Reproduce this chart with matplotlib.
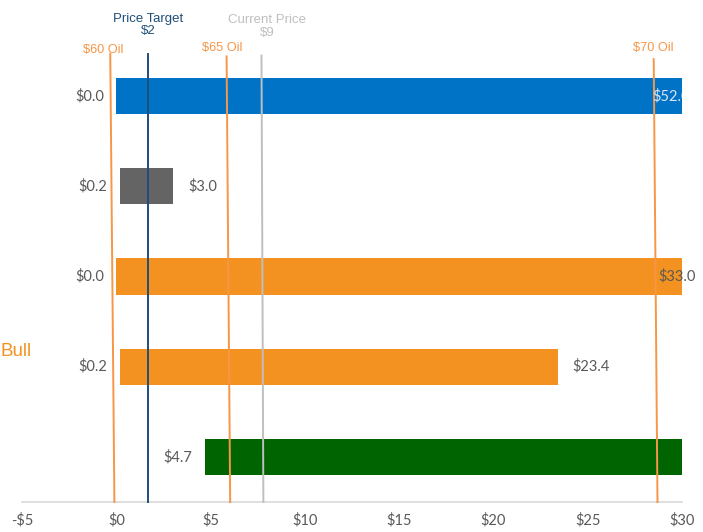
import matplotlib.pyplot as plt

# floating bars, listed top to bottom
bar_start = [0.0, 0.2, 0.0, 0.2, 4.7]
bar_end = [52.0, 3.0, 33.0, 23.4, 30.6]
bar_colors = ['#0173C6', '#646464', '#F39220', '#F39220', '#006400']
start_labels = ['$0.0', '$0.2', '$0.0', '$0.2', '$4.7']
end_labels = ['$52.0', '$3.0', '$33.0', '$23.4', '']

# reference lines: (x at bottom, x at top, top height)
ref_names = ['$60 Oil', 'Price Target\n$2', '$65 Oil', 'Current Price\n$9', '$70 Oil']
ref_x_bottom = [-0.1, 1.7, 6.04, 7.8, 28.7]
ref_x_top = [-0.32, 1.7, 5.85, 7.7, 28.5]
ref_top = [4.97, 4.97, 4.94, 4.95, 4.91]
ref_colors = ['#F79646', '#1F4E79', '#F79646', '#BFBFBF', '#F79646']

x_ticks = [-5, 0, 5, 10, 15, 20, 25, 30]
x_ticklabels = ['-$5', '$0', '$5', '$10', '$15', '$20', '$25', '$30']

fig = plt.figure(figsize=(7.03, 5.32), dpi=100)
ax = fig.add_axes([22/703, 30/532, 660/703, 451/532])

n = len(bar_start)
ypos = [n - 0.5 - i for i in range(n)]
for i in range(n):
    ax.barh(ypos[i], bar_end[i] - bar_start[i], left=bar_start[i], height=0.4,
            color=bar_colors[i], zorder=1)
    ax.annotate(start_labels[i], (bar_start[i], ypos[i]), xytext=(-9, 0),
                textcoords='offset points', ha='right', va='center',
                fontsize=10.5, color='#595959', family='Lato', zorder=4)
    if end_labels[i]:
        inside = bar_end[i] > 30
        if inside:
            ax.annotate(end_labels[i], (28.45 if i == 0 else 28.75, ypos[i]),
                        ha='left', va='center', fontsize=10.5, family='Lato',
                        color='#DCE6F2' if i == 0 else '#595959',
                        annotation_clip=False, clip_on=(i == 0), zorder=4)
        else:
            ax.annotate(end_labels[i], (bar_end[i], ypos[i]), xytext=(11, 0),
                        textcoords='offset points', ha='left', va='center',
                        fontsize=10.5, color='#595959', family='Lato', zorder=4)

for i in range(len(ref_names)):
    ax.plot([ref_x_bottom[i], ref_x_top[i]], [0, ref_top[i]],
            color=ref_colors[i], lw=1.4, zorder=3, clip_on=False)

# line captions
ax.text(ref_x_top[0] - 0.4, 5.01, ref_names[0], ha='center', va='center',
        fontsize=9.2, color='#F79646', family='Liberation Sans')
ax.text(ref_x_top[1], 5.29, ref_names[1], ha='center', va='center',
        fontsize=9.5, color='#1F4E79', family='Liberation Sans', linespacing=1.05)
ax.text(ref_x_top[2] - 0.25, 5.03, ref_names[2], ha='center', va='center',
        fontsize=9.2, color='#F79646', family='Liberation Sans')
ax.text(ref_x_top[3] + 0.3, 5.27, ref_names[3], ha='center', va='center',
        fontsize=9.5, color='#BFBFBF', family='Liberation Sans', linespacing=1.1)
ax.text(ref_x_top[4], 5.03, ref_names[4], ha='center', va='center',
        fontsize=9.2, color='#F79646', family='Liberation Sans')

fig.text(0.0, 1 - 352/532, 'Bull', ha='left', va='center', fontsize=13.5,
         color='#F39220', family='Liberation Sans')

ax.set_xlim(-5, 30)
ax.set_ylim(0, 5)
ax.set_xticks(x_ticks)
ax.set_xticklabels(x_ticklabels, family='Lato', fontsize=10.5, color='#595959')
ax.tick_params(axis='x', length=0, pad=8)
ax.set_yticks([])
for s in ['top', 'right', 'left']:
    ax.spines[s].set_visible(False)
ax.spines['bottom'].set_color('#D9D9D9')
ax.spines['bottom'].set_linewidth(1.2)

fig.savefig('out.png', dpi=100)
